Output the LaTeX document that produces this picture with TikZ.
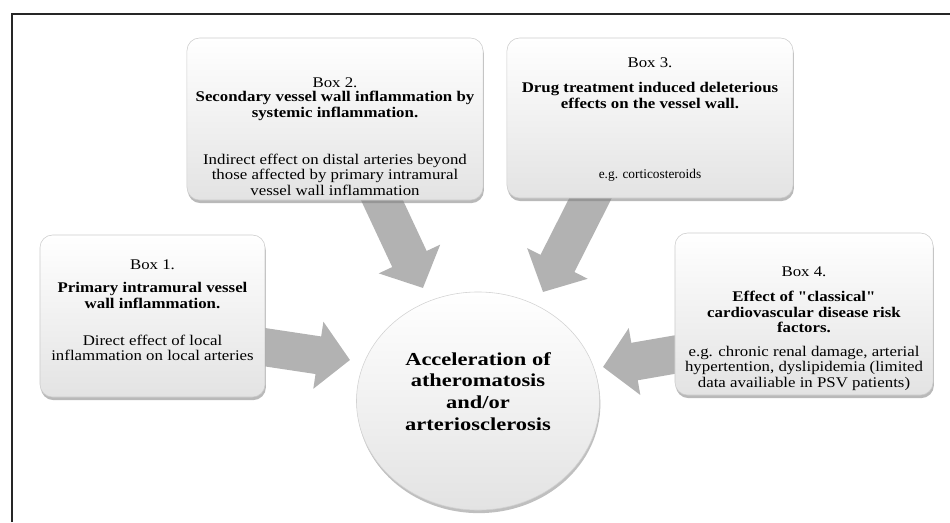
\documentclass[tikz,border=0pt]{standalone}
\usepackage{fontspec}
\setmainfont{Liberation Serif}[Ligatures=TeXOff]
\usetikzlibrary{arrows.meta,shadows,shapes.geometric,calc}

\pgfdeclarelayer{back}
\pgfsetlayers{back,main}

\newcommand{\boxfont}{\fontsize{10.5}{11}\selectfont\addfontfeature{FakeStretch=1.14}}
\newcommand{\hubfont}{\fontsize{13}{15.4}\selectfont\bfseries\addfontfeature{FakeStretch=1.23}}

\tikzset{
  infobox/.style={draw=gray!40, rounded corners=9pt, top color=white, bottom color=gray!22,
    drop shadow={shadow xshift=0.6pt, shadow yshift=-2.2pt, opacity=0.55}},
  boxtext/.style={anchor=north, align=center, inner sep=0pt, font=\boxfont},
  hub/.style={ellipse, draw=gray!35, top color=white, bottom color=gray!22,
    drop shadow={shadow xshift=0.6pt, shadow yshift=-2.2pt, opacity=0.5},
    align=center, inner sep=0pt, font=\hubfont},
  fatarrow/.style={line width=0.95cm, draw=black!30, -{Triangle[length=0.8cm,width=1.65cm]}},
}

\begin{document}
\begin{tikzpicture}[x=0.025cm,y=-0.025cm]
\useasboundingbox (0,0) rectangle (950,522);
% frame
\draw[line width=1.3pt,black!85] (12,522) |- (950,14);

% boxes
\node[infobox,minimum width=5.625cm,minimum height=4.05cm] (box1) at (152.5,316) {};
\node[infobox,minimum width=7.4cm,minimum height=4.05cm] (box2) at (335,119) {};
\node[infobox,minimum width=7.15cm,minimum height=4cm] (box3) at (650,118) {};
\node[infobox,minimum width=6.45cm,minimum height=4.05cm] (box4) at (804,314) {};

% box texts
\node[boxtext] (text1) at ($(box1.north)+(0,25)$)
  {Box 1.\\[5.3pt]
   \textbf{Primary intramural vessel}\\ \textbf{wall inflammation.}\\[15.3pt]
   Direct effect of local\\ inflammation on local arteries};
\node[boxtext] (text2) at ($(box2.north)+(0,40)$)
  {Box 2.\\[-1pt]
   \textbf{Secondary vessel wall inflammation by}\\ \textbf{systemic inflammation.}\\[22.4pt]
   Indirect effect on distal arteries beyond\\ those affected by primary intramural\\ vessel wall inflammation};
\node[boxtext] (text3) at ($(box3.north)+(0,20)$)
  {Box 3.\\[6.7pt]
   \textbf{Drug treatment induced deleterious}\\ \textbf{effects on the vessel wall.}\\[39pt]
   {\fontsize{9.5}{11}\selectfont\addfontfeature{FakeStretch=1.0}e.g. corticosteroids}};
\node[boxtext] (text4) at ($(box4.north)+(0,34)$)
  {Box 4.\\[6.7pt]
   \textbf{Effect of "classical"}\\ \textbf{cardiovascular disease risk}\\ \textbf{factors.}\\[6pt]
   e.g. chronic renal damage, arterial\\ hypertention, dyslipidemia (limited\\ data availiable in PSV patients)};

% centre
\node[hub,minimum width=6.075cm,minimum height=5.45cm] (hub) at (478,401)
  {Acceleration of\\ atheromatosis\\ and/or\\ arteriosclerosis\rule[-14pt]{0pt}{0pt}};

% arrows
\begin{pgfonlayer}{back}
\draw[fatarrow] ($(box1.east)+(-15,29)$) -- ($(hub.center)+(-128,-41)$);
\draw[fatarrow] ($(box2.south)+(40,-15)$) -- ($(hub.center)+(-55,-113)$);
\draw[fatarrow] ($(box3.south)+(-52,-15)$) -- ($(hub.center)+(65,-109)$);
\draw[fatarrow] ($(box4.west)+(15,38)$) -- ($(hub.center)+(125,-34)$);
\end{pgfonlayer}
\end{tikzpicture}
\end{document}
